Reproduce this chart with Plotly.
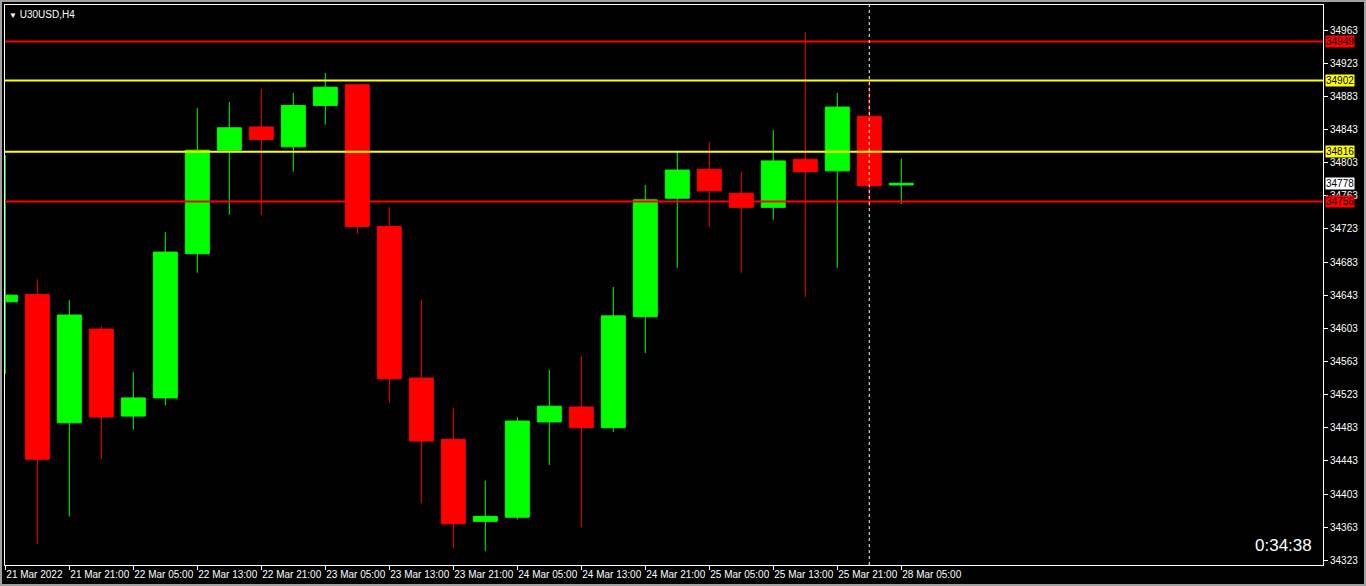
import plotly.graph_objects as go

# H4 bars, U30USD
times = ["2022-03-21 13:00", "2022-03-21 17:00", "2022-03-21 21:00",
         "2022-03-22 01:00", "2022-03-22 05:00", "2022-03-22 09:00",
         "2022-03-22 13:00", "2022-03-22 17:00", "2022-03-22 21:00",
         "2022-03-23 01:00", "2022-03-23 05:00", "2022-03-23 09:00",
         "2022-03-23 13:00", "2022-03-23 17:00", "2022-03-23 21:00",
         "2022-03-24 01:00", "2022-03-24 05:00", "2022-03-24 09:00",
         "2022-03-24 13:00", "2022-03-24 17:00", "2022-03-24 21:00",
         "2022-03-25 01:00", "2022-03-25 05:00", "2022-03-25 09:00",
         "2022-03-25 13:00", "2022-03-25 17:00", "2022-03-25 21:00",
         "2022-03-28 01:00", "2022-03-28 05:00"]
opens = [34635, 34644, 34489, 34602, 34497, 34519, 34693, 34818, 34846,
         34822, 34872, 34897, 34726, 34543, 34469, 34370, 34375, 34490,
         34508, 34483, 34617, 34760, 34795, 34766, 34749, 34807, 34793,
         34859, 34776]
highs = [34812, 34662, 34637, 34606, 34550, 34719, 34869, 34876, 34892,
         34887, 34911, 34898, 34749, 34637, 34507, 34419, 34496, 34553,
         34570, 34653, 34776, 34816, 34828, 34792, 34842, 34961, 34887,
         34900, 34808]
lows = [34548, 34343, 34376, 34445, 34481, 34510, 34670, 34740, 34740,
        34792, 34849, 34717, 34513, 34392, 34338, 34334, 34372, 34438,
        34363, 34478, 34573, 34676, 34725, 34670, 34734, 34641, 34676,
        34751, 34753]
closes = [34643, 34445, 34619, 34496, 34519, 34695, 34818, 34845, 34831,
          34872, 34894, 34726, 34542, 34467, 34367, 34376, 34491, 34509,
          34483, 34618, 34758, 34794, 34769, 34749, 34805, 34792, 34870,
          34775, 34778]

tick_times = times[::2]
tick_labels = ["21 Mar 2022", "21 Mar 21:00", "22 Mar 05:00", "22 Mar 13:00",
               "22 Mar 21:00", "23 Mar 05:00", "23 Mar 13:00", "23 Mar 21:00",
               "24 Mar 05:00", "24 Mar 13:00", "24 Mar 21:00", "25 Mar 05:00",
               "25 Mar 13:00", "25 Mar 21:00", "28 Mar 05:00"]
price_ticks = [34323 + 40 * i for i in range(17)]

# horizontal levels (price, colour)
levels = [34949, 34902, 34816, 34756]
level_colors = ["#ff0000", "#ffff00", "#ffff00", "#ff0000"]
last_price = 34778
separator_time = "2022-03-28 01:00"

FONT = "Liberation Sans"

fig = go.Figure(go.Candlestick(
    x=times, open=opens, high=highs, low=lows, close=closes,
    increasing=dict(line=dict(color="#00ff00", width=1), fillcolor="#00ff00"),
    decreasing=dict(line=dict(color="#ff0000", width=1), fillcolor="#ff0000"),
    whiskerwidth=0, hoverinfo="skip", showlegend=False,
))

shapes = []
for lv, col in zip(levels, level_colors):
    shapes.append(dict(type="line", xref="paper", x0=0, x1=1, yref="y", y0=lv, y1=lv,
                       line=dict(color=col, width=2), layer="above"))
shapes.append(dict(type="line", xref="x", x0=separator_time, x1=separator_time,
                   yref="paper", y0=0, y1=1,
                   line=dict(color="white", width=1, dash="3px,3px"), layer="above"))
# outer grey frame of the window
shapes.append(dict(type="rect", xref="paper", yref="paper",
                   x0=-4 / 1318, x1=1365 / 1318 - 5 / 1318,
                   y0=-20 / 560, y1=1 + 4 / 560,
                   line=dict(color="#a0a0a0", width=2)))

annotations = []
for lv, col in zip(levels, level_colors):
    annotations.append(dict(xref="paper", x=1, xanchor="left", xshift=2, yref="y", y=lv,
                            text=str(lv), showarrow=False, bgcolor=col, borderpad=0,
                            font=dict(family=FONT, size=10, color="black")))
annotations.append(dict(xref="paper", x=1, xanchor="left", xshift=2, yref="y", y=last_price,
                        text=str(last_price), showarrow=False, bgcolor="white", borderpad=0,
                        font=dict(family=FONT, size=10, color="black")))
annotations.append(dict(xref="paper", x=0, xanchor="left", xshift=2, yref="paper", y=1,
                        yanchor="top", yshift=-2, showarrow=False,
                        text="<span style='font-size:8px'>▼</span> U30USD,H4",
                        font=dict(family=FONT, size=10, color="white")))
annotations.append(dict(xref="paper", x=1, xanchor="right", xshift=-9, yref="paper", y=0,
                        yanchor="bottom", yshift=8, showarrow=False, text="0:34:38",
                        font=dict(family=FONT, size=17, color="white")))

fig.update_layout(
    width=1366, height=586,
    margin=dict(l=5, r=43, t=5, b=21),
    paper_bgcolor="black", plot_bgcolor="black",
    boxgap=0.25, boxgroupgap=0,
    shapes=shapes, annotations=annotations,
    font=dict(family=FONT, size=10, color="white"),
    hovermode=False,
)
fig.update_xaxes(
    type="category", range=[-0.01, 41.18], rangeslider_visible=False,
    tickvals=tick_times, ticktext=tick_labels, tickangle=0, automargin=False,
    ticks="outside", ticklen=4, tickcolor="white", ticklabelposition="outside right",
    showgrid=False, zeroline=False,
    showline=True, mirror=True, linecolor="white", linewidth=1,
    tickfont=dict(family=FONT, size=10, color="white"),
)
fig.update_yaxes(
    side="right", range=[34317.3, 34993.2], automargin=False,
    tickvals=price_ticks, ticktext=[str(p) for p in price_ticks],
    ticks="outside", ticklen=4, tickcolor="white",
    showgrid=False, zeroline=False,
    showline=True, mirror=True, linecolor="white", linewidth=1,
    tickfont=dict(family=FONT, size=10, color="white"),
)

# drop the browser's default page margin so the chart sits at the window corner
fig.write_html("out.html", config={"displayModeBar": False},
               post_script="document.body.style.margin='0';document.body.style.background='black';")
